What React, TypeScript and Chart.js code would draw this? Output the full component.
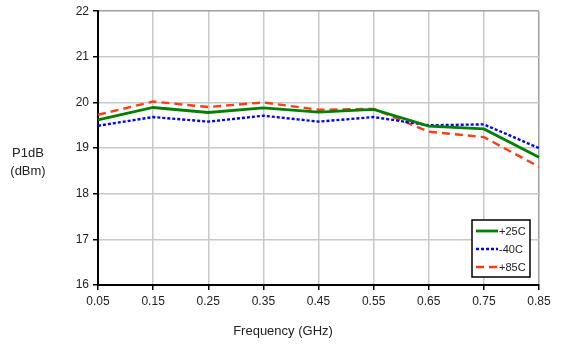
import React, { useEffect, useRef } from "react";
import { Chart, registerables } from "chart.js";

Chart.register(...registerables);

const frequencies = ["0.05", "0.15", "0.25", "0.35", "0.45", "0.55", "0.65", "0.75", "0.85"];
const p1dbPlus25 = [19.62, 19.89, 19.78, 19.88, 19.79, 19.85, 19.48, 19.42, 18.8];
const p1dbMinus40 = [19.49, 19.68, 19.58, 19.71, 19.58, 19.68, 19.5, 19.52, 19.0];
const p1dbPlus85 = [19.73, 20.02, 19.9, 20.0, 19.84, 19.86, 19.36, 19.24, 18.59];
const yTitleLines = ["P1dB", "(dBm)"];
const xTitle = "Frequency (GHz)";

const FONT = "'Liberation Sans', Arial, sans-serif";
const GREEN = "#008000";
const BLUE = "#0000ff";
const RED = "#ff3c14";

const series = [
  { label: "+25C", data: p1dbPlus25, color: GREEN, dash: [] as number[], width: 2.8 },
  { label: "-40C", data: p1dbMinus40, color: BLUE, dash: [3, 2], width: 2.4 },
  { label: "+85C", data: p1dbPlus85, color: RED, dash: [8, 5], width: 2.4 },
];

// Axis titles and the boxed legend inside the plot area
const annotations = {
  id: "annotations",
  afterDraw(chart: Chart) {
    const ctx = chart.ctx;
    const area = chart.chartArea;
    ctx.save();
    ctx.fillStyle = "#222";
    ctx.font = `13px ${FONT}`;
    ctx.textAlign = "center";
    ctx.textBaseline = "middle";
    ctx.fillText(yTitleLines[0], 28, 153);
    ctx.fillText(yTitleLines[1], 28, 171);
    ctx.fillText(xTitle, 283, 331);

    // legend box
    const bx = area.right - 67;
    const by = area.bottom - 65;
    const bw = 58;
    const bh = 57;
    ctx.fillStyle = "#fff";
    ctx.fillRect(bx, by, bw, bh);
    ctx.strokeStyle = "#000";
    ctx.lineWidth = 1.5;
    ctx.strokeRect(bx, by, bw, bh);
    ctx.font = `11px ${FONT}`;
    ctx.textAlign = "left";
    series.forEach((s, i) => {
      const y = by + 11 + i * 18;
      ctx.beginPath();
      ctx.strokeStyle = s.color;
      ctx.lineWidth = s.width;
      ctx.setLineDash(s.dash);
      ctx.moveTo(bx + 4, y);
      ctx.lineTo(bx + 26, y);
      ctx.stroke();
      ctx.setLineDash([]);
      ctx.fillStyle = "#222";
      ctx.fillText(s.label, bx + 27, y + 1);
    });
    ctx.restore();
  },
};

export default function App() {
  const canvasRef = useRef<HTMLCanvasElement>(null);

  useEffect(() => {
    if (!canvasRef.current) return;
    const chart = new Chart(canvasRef.current, {
      type: "line",
      data: {
        labels: frequencies,
        datasets: series.map((s) => ({
          label: s.label,
          data: s.data,
          borderColor: s.color,
          backgroundColor: s.color,
          borderWidth: s.width,
          borderDash: s.dash,
          pointRadius: 0,
          tension: 0,
          fill: false,
        })),
      },
      options: {
        animation: false,
        responsive: false,
        layout: { padding: { left: 0, top: 11, right: 24, bottom: 0 } },
        plugins: {
          legend: { display: false },
          tooltip: { enabled: false },
        },
        scales: {
          x: {
            type: "category",
            offset: false,
            grid: {
              color: (c: any) => (c.index === frequencies.length - 1 ? "#a0a0a0" : "#c8c8c8"),
              lineWidth: 1.5,
              tickColor: "#000",
              tickLength: 5,
            },
            border: { color: "#000", width: 2 },
            ticks: {
              color: "#222",
              font: { family: FONT, size: 12 },
              padding: 4,
              maxRotation: 0,
              autoSkip: false,
            },
            afterFit: (scale: any) => {
              scale.height = 59;
            },
          },
          y: {
            min: 16,
            max: 22,
            grid: {
              color: (c: any) => (c.tick && c.tick.value === 22 ? "#a0a0a0" : "#c8c8c8"),
              lineWidth: 1.5,
              tickColor: "#000",
              tickLength: 5,
            },
            border: { color: "#000", width: 2 },
            ticks: {
              stepSize: 1,
              color: "#222",
              font: { family: FONT, size: 12 },
              padding: 4,
            },
            afterFit: (scale: any) => {
              scale.width = 98;
            },
          },
        },
      },
      plugins: [annotations],
    });
    return () => chart.destroy();
  }, []);

  return (
    <div style={{ position: "fixed", left: 0, top: 0, width: 563, height: 344, background: "#fff" }}>
      <canvas ref={canvasRef} width={563} height={344} style={{ width: 563, height: 344 }} />
    </div>
  );
}
